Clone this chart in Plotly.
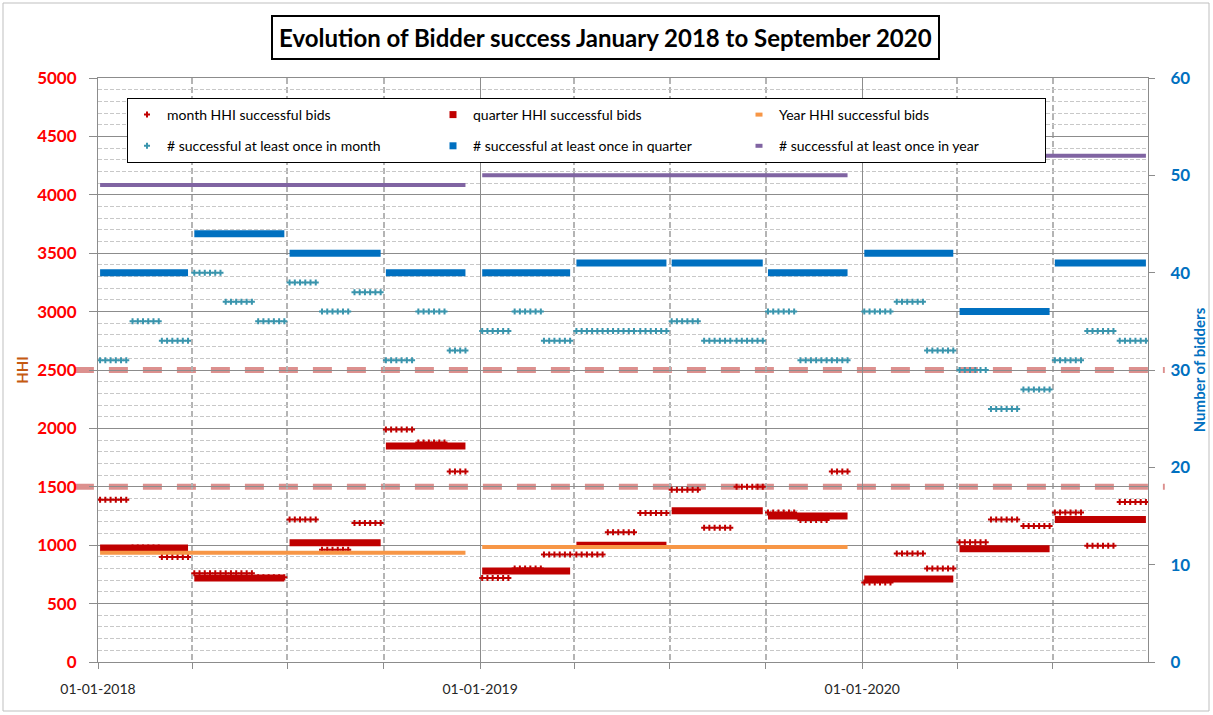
"""Evolution of bidder success, Jan 2018 - Sep 2020 (HHI and number of bidders)."""

import pandas as pd
import plotly.graph_objects as go

# --- data --------------------------------------------------------------------
MONTHS = pd.date_range("2018-01-01", "2020-09-01", freq="MS")
MONTH_HHI = [1390, 980, 900, 760, 760, 725, 1220, 960, 1190, 1990, 1880, 1630,
             720, 800, 920, 920, 1110, 1275, 1475, 1150, 1500, 1280, 1215, 1630,
             680, 930, 800, 1025, 1220, 1165, 1280, 995, 1370]
MONTH_BIDDERS = [31, 35, 33, 40, 37, 35, 39, 36, 38, 31, 36, 32,
                 34, 36, 33, 34, 34, 34, 35, 33, 33, 36, 31, 31,
                 36, 37, 32, 30, 26, 28, 31, 34, 33]

QUARTERS = ["2018Q1", "2018Q2", "2018Q3", "2018Q4",
            "2019Q1", "2019Q2", "2019Q3", "2019Q4",
            "2020Q1", "2020Q2", "2020Q3"]
QUARTER_HHI = [975, 720, 1020, 1850, 780, 1000, 1295, 1250, 710, 970, 1220]
QUARTER_BIDDERS = [40, 44, 42, 40, 40, 41, 41, 40, 42, 36, 41]

YEARS = [2018, 2019, 2020]
YEAR_HHI = [935, 985, None]
YEAR_BIDDERS = [49, 50, 52]

# auction days used inside each month and last auction of each year
AUCTION_DAYS = [3, 8, 13, 18, 23, 28]
LAST_AUCTION = {2018: "2018-12-18", 2019: "2019-12-18", 2020: "2020-09-28"}

HHI_THRESHOLDS = [1500, 2500]

TITLE = "Evolution of Bidder success January 2018 to September 2020"

RED = "#c00000"
TEAL = "#3a95ad"
BLUE = "#0070c0"
ORANGE = "#f79646"
PURPLE = "#8064a2"
GRID = "#8c8c8c"
FONT = "Lato"

# --- one row per auction date --------------------------------------------------
rows = []
for month, hhi, n in zip(MONTHS, MONTH_HHI, MONTH_BIDDERS):
    for day in AUCTION_DAYS:
        date = month + pd.Timedelta(days=day - 1)
        if date > pd.Timestamp(LAST_AUCTION[month.year]):
            continue
        rows.append({"date": date, "month_hhi": hhi, "month_n": n})
df = pd.DataFrame(rows)
df["quarter"] = df["date"].dt.to_period("Q").astype(str)
df["year"] = df["date"].dt.year


def segmentos(col, keys, values):
    """Horizontal segment per period, from first to last auction date."""
    xs, ys = [], []
    for k, v in zip(keys, values):
        if v is None:
            continue
        sub = df[df[col] == k]
        xs += [sub["date"].min(), sub["date"].max(), None]
        ys += [v, v, None]
    return xs, ys


fig = go.Figure()

# HHI (left axis)
fig.add_trace(go.Scatter(
    x=df["date"], y=df["month_hhi"], mode="markers",
    name="month HHI successful bids", legendrank=1,
    marker=dict(symbol="cross", size=5, color=RED),
))
qx, qy = segmentos("quarter", QUARTERS, QUARTER_HHI)
fig.add_trace(go.Scatter(
    x=qx, y=qy, mode="lines", line=dict(color=RED, width=7),
    legendgroup="qhhi", showlegend=False,
))
yx, yy = segmentos("year", YEARS, YEAR_HHI)
fig.add_trace(go.Scatter(
    x=yx, y=yy, mode="lines", line=dict(color=ORANGE, width=4),
    legendgroup="yhhi", showlegend=False,
))

# number of bidders (right axis)
fig.add_trace(go.Scatter(
    x=df["date"], y=df["month_n"], mode="markers", yaxis="y2",
    name="# successful at least once in month", legendrank=4,
    marker=dict(symbol="cross", size=5, color=TEAL),
))
qx, qy = segmentos("quarter", QUARTERS, QUARTER_BIDDERS)
fig.add_trace(go.Scatter(
    x=qx, y=qy, mode="lines", yaxis="y2", line=dict(color=BLUE, width=7),
    legendgroup="qn", showlegend=False,
))
yx, yy = segmentos("year", YEARS, YEAR_BIDDERS)
fig.add_trace(go.Scatter(
    x=yx, y=yy, mode="lines", yaxis="y2", line=dict(color=PURPLE, width=4),
    legendgroup="yn", showlegend=False,
))

# legend-only entries with Excel-like symbols
for grupo, texto, rank, eje, marker in [
    ("qhhi", "quarter HHI successful bids", 2, "y",
     dict(symbol="square", size=7, color=RED)),
    ("yhhi", "Year HHI successful bids", 3, "y",
     dict(symbol="line-ew-open", size=5, color=ORANGE, line=dict(width=4))),
    ("qn", "# successful at least once in quarter", 5, "y2",
     dict(symbol="square", size=7, color=BLUE)),
    ("yn", "# successful at least once in year", 6, "y2",
     dict(symbol="line-ew-open", size=5, color=PURPLE, line=dict(width=4))),
]:
    fig.add_trace(go.Scatter(
        x=[None], y=[None], mode="markers", yaxis=eje, marker=marker,
        name=texto, legendgroup=grupo, legendrank=rank,
    ))

# reference lines for HHI thresholds
for valor in HHI_THRESHOLDS:
    fig.add_shape(
        type="line", xref="paper", yref="y", x0=-0.022, x1=1.016,
        y0=valor, y1=valor, layer="below",
        line=dict(color="rgba(214,124,122,0.85)", width=6, dash="19px,15px"),
    )

# outer chart border
fig.add_shape(
    type="rect", xref="paper", yref="paper",
    x0=-95 / 1050, x1=1111 / 1050, y0=-49 / 584, y1=659 / 584,
    line=dict(color="#bfbfbf", width=1),
)

fig.add_annotation(
    text=f"<b>{TITLE}</b>", xref="paper", yref="paper",
    x=507 / 1050, y=625 / 584, xanchor="center", yanchor="middle",
    showarrow=False, font=dict(family=FONT, size=24, color="black"),
    bordercolor="black", borderwidth=2, borderpad=6, bgcolor="white",
)

fig.update_layout(
    width=1213, height=715,
    margin=dict(l=98, r=65, t=78, b=53),
    plot_bgcolor="white", paper_bgcolor="white",
    font=dict(family=FONT, color="black"),
    showlegend=True,
    legend=dict(
        orientation="h", x=29 / 1050, y=564 / 584, xanchor="left", yanchor="top",
        bgcolor="white", bordercolor="black", borderwidth=1,
        entrywidth=261, font=dict(family=FONT, size=14, color="black"),
    ),
    xaxis=dict(
        type="date", range=["2018-01-01", "2020-09-30"],
        tick0="2018-01-01", dtick="M12", tickformat="%d-%m-%Y",
        tickfont=dict(family=FONT, size=14, color="#262626"),
        ticks="outside", ticklen=6, tickcolor=GRID, ticklabelstandoff=8,
        showgrid=True, gridcolor=GRID, gridwidth=1,
        showline=True, linecolor=GRID, linewidth=1, mirror=True,
        minor=dict(dtick="M3", ticks="outside", ticklen=6, tickcolor=GRID,
                   showgrid=True, gridcolor="#b4b4b4", gridwidth=1.5,
                   griddash="6px,3px"),
    ),
    yaxis=dict(
        range=[0, 5000], dtick=500,
        tickfont=dict(family=FONT, size=17, color="#ff0000", weight="bold"),
        ticks="outside", ticklen=8, tickcolor=GRID, ticklabelstandoff=9,
        showgrid=True, gridcolor=GRID, gridwidth=1, zeroline=False,
        showline=True, linecolor=GRID, linewidth=1,
        minor=dict(dtick=100, showgrid=True, gridcolor="#c8c8c8",
                   gridwidth=1, griddash="4px,2px"),
        title=dict(text="HHI", standoff=4,
                   font=dict(family=FONT, size=15, color="#c55a11", weight="bold")),
    ),
    yaxis2=dict(
        range=[0, 60], dtick=10, overlaying="y", side="right",
        tickfont=dict(family=FONT, size=17, color=BLUE, weight="bold"),
        ticks="outside", ticklen=6, tickcolor=GRID, ticklabelstandoff=12,
        showgrid=False, zeroline=False,
        showline=True, linecolor=GRID, linewidth=1,
        title=dict(text="Number of bidders", standoff=1,
                   font=dict(family=FONT, size=15, color=BLUE, weight="bold")),
    ),
)

fig.write_html(
    "out.html",
    config={"displayModeBar": False},
    post_script="document.body.style.margin='0';",
)
